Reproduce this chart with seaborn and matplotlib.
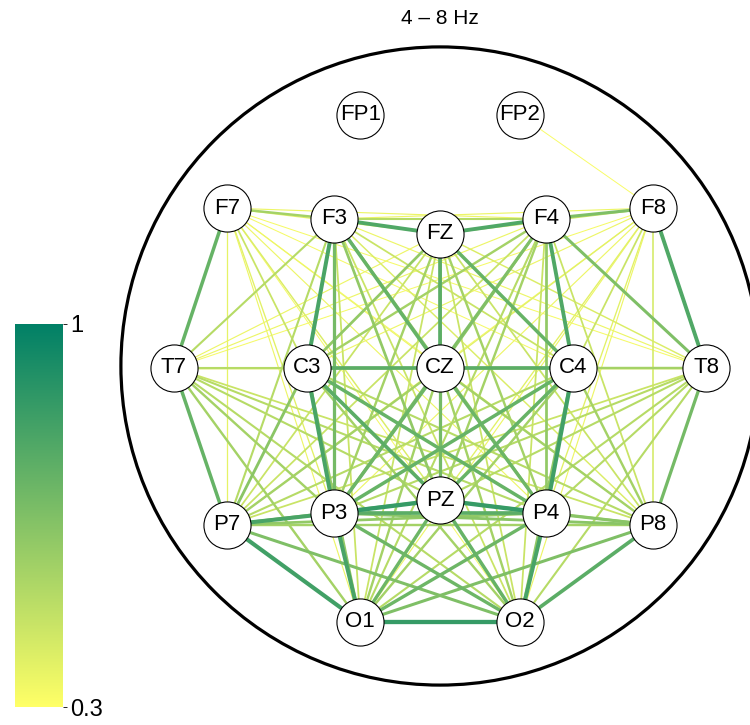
import seaborn as sns
import matplotlib.pyplot as plt
import matplotlib as mpl
import pandas as pd
import numpy as np

sns.set_style("white", {"text.color": "black", "xtick.color": "black", "ytick.color": "black"})
plt.rcParams["font.family"] = ["Liberation Sans", "DejaVu Sans"]

# Electrode layout (head coordinates, head radius = 1)
electrodes = ["FP1", "FP2", "F7", "F3", "FZ", "F4", "F8",
              "T7", "C3", "CZ", "C4", "T8",
              "P7", "P3", "PZ", "P4", "P8", "O1", "O2"]
elec_x = [-0.25, 0.25, -0.667, -0.332, 0.0, 0.332, 0.667,
          -0.834, -0.418, 0.0, 0.418, 0.834,
          -0.667, -0.332, 0.0, 0.332, 0.667, -0.25, 0.25]
elec_y = [0.787, 0.787, 0.495, 0.461, 0.414, 0.461, 0.495,
          -0.006, -0.006, -0.006, -0.006, -0.006,
          -0.498, -0.461, -0.42, -0.461, -0.498, -0.802, -0.802]

# Connectivity (4-8 Hz)
edge_src = (["F7"] * 15 + ["F3"] * 15 + ["FZ"] * 14 + ["F4"] * 13 + ["F8"] * 13
            + ["T7"] * 11 + ["C3"] * 10 + ["CZ"] * 9 + ["C4"] * 8 + ["T8"] * 7
            + ["P7"] * 6 + ["P3"] * 5 + ["PZ"] * 4 + ["P4"] * 3 + ["P8"] * 2 + ["O1"])
edge_dst = (["F3", "FZ", "F4", "T7", "C3", "CZ", "C4", "T8", "P7", "P3", "PZ", "P4", "P8", "O1", "O2"]
            + ["FZ", "F4", "F8", "T7", "C3", "CZ", "C4", "T8", "P7", "P3", "PZ", "P4", "P8", "O1", "O2"]
            + ["F4", "F8", "T7", "C3", "CZ", "C4", "T8", "P7", "P3", "PZ", "P4", "P8", "O1", "O2"]
            + ["F8", "T7", "C3", "CZ", "C4", "T8", "P7", "P3", "PZ", "P4", "P8", "O1", "O2"]
            + ["FP2", "T7", "C3", "CZ", "C4", "T8", "P7", "P3", "PZ", "P4", "P8", "O1", "O2"]
            + ["C3", "CZ", "C4", "T8", "P7", "P3", "PZ", "P4", "P8", "O1", "O2"]
            + ["CZ", "C4", "T8", "P7", "P3", "PZ", "P4", "P8", "O1", "O2"]
            + ["C4", "T8", "P7", "P3", "PZ", "P4", "P8", "O1", "O2"]
            + ["T8", "P7", "P3", "PZ", "P4", "P8", "O1", "O2"]
            + ["P7", "P3", "PZ", "P4", "P8", "O1", "O2"]
            + ["P3", "PZ", "P4", "P8", "O1", "O2"]
            + ["PZ", "P4", "P8", "O1", "O2"]
            + ["P4", "P8", "O1", "O2"]
            + ["P8", "O1", "O2"]
            + ["O1", "O2"]
            + ["O2"])
edge_w = ([0.55, 0.38, 0.35, 0.72, 0.45, 0.35, 0.33, 0.33, 0.37, 0.38, 0.40, 0.35, 0.33, 0.35, 0.33]
          + [0.78, 0.50, 0.35, 0.50, 0.80, 0.72, 0.45, 0.35, 0.50, 0.68, 0.60, 0.60, 0.40, 0.45, 0.45]
          + [0.78, 0.45, 0.35, 0.60, 0.75, 0.72, 0.40, 0.45, 0.55, 0.62, 0.55, 0.45, 0.45, 0.45]
          + [0.65, 0.35, 0.55, 0.60, 0.78, 0.65, 0.45, 0.65, 0.55, 0.60, 0.45, 0.50, 0.45]
          + [0.32, 0.33, 0.35, 0.38, 0.45, 0.78, 0.33, 0.35, 0.38, 0.38, 0.42, 0.35, 0.35]
          + [0.50, 0.40, 0.38, 0.35, 0.72, 0.55, 0.50, 0.50, 0.45, 0.55, 0.50]
          + [0.75, 0.55, 0.38, 0.62, 0.80, 0.75, 0.72, 0.50, 0.60, 0.55]
          + [0.75, 0.40, 0.55, 0.70, 0.68, 0.70, 0.55, 0.55, 0.55]
          + [0.55, 0.50, 0.72, 0.72, 0.82, 0.55, 0.55, 0.60]
          + [0.45, 0.50, 0.50, 0.50, 0.68, 0.50, 0.50]
          + [0.80, 0.65, 0.60, 0.55, 0.82, 0.65]
          + [0.85, 0.75, 0.62, 0.80, 0.70]
          + [0.85, 0.60, 0.70, 0.72]
          + [0.62, 0.70, 0.80]
          + [0.65, 0.75]
          + [0.85])

vmin, vmax = 0.3, 1.0
cmap = sns.color_palette("summer_r", as_cmap=True)
norm = mpl.colors.Normalize(vmin=vmin, vmax=vmax)

nodes = pd.DataFrame({"name": electrodes, "x": elec_x, "y": elec_y})
pos = nodes.set_index("name")
edges = pd.DataFrame({"src": edge_src, "dst": edge_dst, "w": edge_w}).sort_values("w")

fig = plt.figure(figsize=(7.5, 7.25), dpi=100)
ax = fig.add_axes([89 / 750, 8 / 725, 702 / 750, 702 / 725])

# head outline
ax.add_patch(plt.Circle((0, 0), 1.0, fill=False, color="black", lw=2.3, zorder=1))

# edges, weakest first
for _, e in edges.iterrows():
    a, b = pos.loc[e["src"]], pos.loc[e["dst"]]
    lw = 0.6 + (e["w"] - vmin) / 0.55 * 2.5
    ax.plot([a["x"], b["x"]], [a["y"], b["y"]], color=cmap(norm(e["w"])),
            lw=lw, solid_capstyle="butt", zorder=2)

# electrodes
sns.scatterplot(data=nodes, x="x", y="y", s=1150, color="white",
                edgecolor="black", linewidth=0.8, zorder=3, ax=ax, legend=False)
for _, n in nodes.iterrows():
    ax.text(n["x"], n["y"], n["name"], ha="center", va="center",
            fontsize=16, color="black", zorder=4)

ax.set_xlim(-1.1, 1.1)
ax.set_ylim(-1.1, 1.1)
ax.set_aspect("auto")
ax.axis("off")

fig.text(440 / 750, 1 - 18 / 725, "4 – 8 Hz", ha="center", va="center",
         fontsize=15, color="black")

# colorbar
cax = fig.add_axes([15 / 750, 18 / 725, 48 / 750, 383 / 725])
sm = mpl.cm.ScalarMappable(norm=norm, cmap=cmap)
cb = fig.colorbar(sm, cax=cax, ticks=[0.3, 1.0])
cb.ax.set_yticklabels(["0.3", "1"])
cb.outline.set_visible(False)
cb.ax.tick_params(labelsize=17, length=3, width=0.6, pad=2, colors="black")

plt.savefig("out.png", dpi=100)
plt.close()
